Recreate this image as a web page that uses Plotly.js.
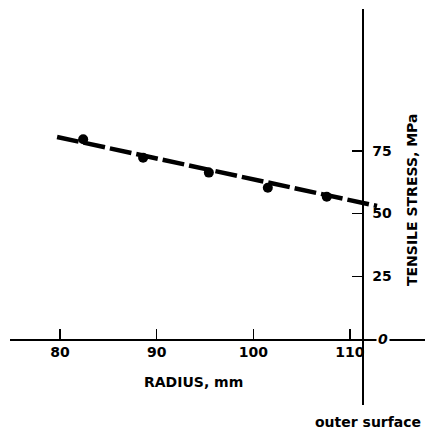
<!DOCTYPE html>
<html>
<head>
<meta charset="utf-8">
<script src="https://cdn.plot.ly/plotly-3.0.1.min.js"></script>
<style>html,body{margin:0;padding:0;background:#fff}#chart{width:431px;height:434px}</style>
</head>
<body>
<div id="chart"></div>
<script>
// Measured points (radius mm, tensile stress MPa)
const radius = [82.4, 88.6, 95.4, 101.5, 107.6];
const stress = [79.6, 72.2, 66.3, 60.3, 56.7];
// Fitted line end points
const fitRadius = [79.7, 112.8];
const fitStress = [80.5, 53.0];
// Ticks
const xTicks = [80, 90, 100, 110];
const yTicks = [25, 50, 75];
const yZeroLabel = '0';
const xTitle = 'RADIUS, mm';
const yTitle = 'TENSILE STRESS, MPa';
const surfaceLabel = 'outer surface';

const W = 431, H = 434;
const fontFam = 'DejaVu Sans, Arial, sans-serif';

const traces = [
  {x: fitRadius, y: fitStress, mode: 'lines', type: 'scatter',
   line: {color: '#000', width: 4.5, dash: '22px,5px'}, hoverinfo: 'skip', showlegend: false},
  {x: radius, y: stress, mode: 'markers', type: 'scatter',
   marker: {color: '#000', size: 10}, showlegend: false}
];

const layout = {
  width: W, height: H,
  margin: {l: 0, r: 0, t: 0, b: 0},
  paper_bgcolor: '#fff', plot_bgcolor: 'rgba(0,0,0,0)',
  showlegend: false,
  font: {family: fontFam, color: '#000', size: 14},
  xaxis: {
    domain: [10 / W, 425 / W],
    range: [74.83, 117.76],
    anchor: 'free', position: (H - 339) / H,
    showline: true, linecolor: '#000', linewidth: 1.5,
    showgrid: false, zeroline: false,
    ticks: 'inside', ticklen: 10, tickwidth: 1.5, tickcolor: '#000',
    tickvals: xTicks, ticktext: xTicks.map(String),
    tickfont: {family: fontFam, size: 14, weight: 'bold', color: '#000'}
  },
  yaxis: {
    domain: [(H - 405) / H, (H - 9) / H],
    range: [-26.3, 131.5],
    anchor: 'free', position: 362 / W, side: 'right',
    showline: true, linecolor: '#000', linewidth: 1.5,
    showgrid: false, zeroline: false,
    ticks: 'inside', ticklen: 10, tickwidth: 1.5, tickcolor: '#000',
    ticklabelstandoff: 6,
    tickvals: yTicks, ticktext: yTicks.map(String),
    tickfont: {family: fontFam, size: 14, weight: 'bold', color: '#000'}
  },
  annotations: [
    {text: yZeroLabel, xref: 'paper', yref: 'y', x: 383 / W, y: 0, showarrow: false,
     bgcolor: '#fff', borderpad: 1, xanchor: 'center', yanchor: 'middle',
     font: {family: fontFam, size: 14, weight: 'bold', style: 'italic', color: '#000'}},
    {text: xTitle, xref: 'paper', yref: 'paper', x: 193 / W, y: (H - 382) / H, showarrow: false,
     xanchor: 'center', yanchor: 'middle',
     font: {family: fontFam, size: 14, weight: 'bold', color: '#000'}},
    {text: yTitle, xref: 'paper', yref: 'paper', x: 412 / W, y: (H - 200) / H, showarrow: false,
     textangle: -90, xanchor: 'center', yanchor: 'middle',
     font: {family: fontFam, size: 14, weight: 'bold', color: '#000'}},
    {text: surfaceLabel, xref: 'paper', yref: 'paper', x: 368 / W, y: (H - 422) / H, showarrow: false,
     xanchor: 'center', yanchor: 'middle',
     font: {family: fontFam, size: 14, weight: 'bold', color: '#000'}}
  ]
};

Plotly.newPlot('chart', traces, layout, {displayModeBar: false, staticPlot: true});
</script>
</body>
</html>
